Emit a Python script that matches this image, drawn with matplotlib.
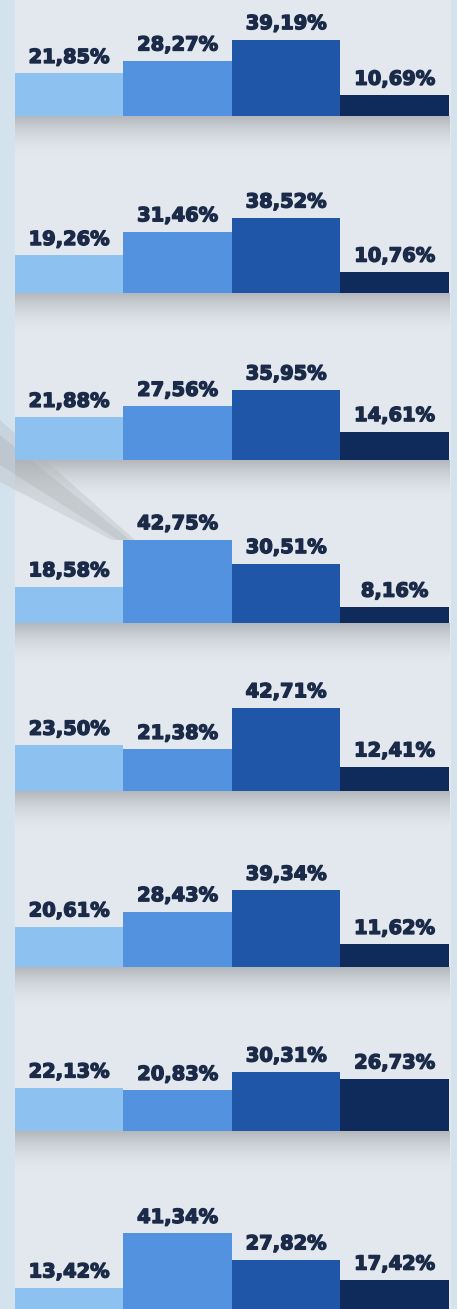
import numpy as np
import matplotlib
matplotlib.use("Agg")
import matplotlib.pyplot as plt
from matplotlib.patches import Polygon
import matplotlib.patheffects as pe

# ---- data ----
categories = ["A", "B", "C", "D"]
panel_values = [
    [21.85, 28.27, 39.19, 10.69],
    [19.26, 31.46, 38.52, 10.76],
    [21.88, 27.56, 35.95, 14.61],
    [18.58, 42.75, 30.51, 8.16],
    [23.50, 21.38, 42.71, 12.41],
    [20.61, 28.43, 39.34, 11.62],
    [22.13, 20.83, 30.31, 26.73],
    [13.42, 41.34, 27.82, 17.42],
]
bar_colors = ["#8dc2f0", "#5292de", "#1f56a8", "#0f2b5c"]

# ---- layout (pixels) ----
W, H = 457, 1309
bases = [116, 293, 460, 623, 791, 967, 1131, 1314]
x0, x1 = 15, 449
px_per_pct = 1.95
ax_h = 100

fig = plt.figure(figsize=(W / 100, H / 100), dpi=100)

# background
bg = np.zeros((H, W, 3))
outer = np.array(matplotlib.colors.to_rgb("#d4e2ee"))
inner = np.array(matplotlib.colors.to_rgb("#e2e8ed"))
bg[:, :] = outer
bg[:, x0:x1 + 2] = inner
shadow = np.array(matplotlib.colors.to_rgb("#a9adb2"))
for b in bases:
    for i in range(40):
        y = b + i
        if 0 <= y < H:
            w = 0.8 * (1 - i / 40) ** 1.8
            bg[y, x0:x1 + 1] = bg[y, x0:x1 + 1] * (1 - w) + shadow * w

ax_bg = fig.add_axes([0, 0, 1, 1])
ax_bg.imshow(bg, extent=(0, W, H, 0), aspect="auto", interpolation="bilinear")
ax_bg.set_xlim(0, W)
ax_bg.set_ylim(H, 0)
ax_bg.axis("off")
ax_bg.add_patch(Polygon([(0, 420), (0, 482), (112, 540), (135, 540)],
                        closed=True, facecolor="#b4b8bc", alpha=0.35, edgecolor="none"))
ax_bg.add_patch(Polygon([(0, 435), (0, 465), (118, 540), (130, 540)],
                        closed=True, facecolor="#a8adb2", alpha=0.3, edgecolor="none"))

for vals, b in zip(panel_values, bases):
    ax = fig.add_axes([x0 / W, 1 - b / H, (x1 - x0) / W, ax_h / H])
    ax.set_xlim(-0.5, len(categories) - 0.5)
    ax.set_ylim(0, ax_h / px_per_pct)
    ax.patch.set_alpha(0)
    ax.axis("off")
    xs = np.arange(len(categories))
    ax.bar(xs, vals, width=1.0, color=bar_colors, edgecolor="none")
    for x, v in zip(xs, vals):
        ax.annotate(f"{v:.2f}%".replace(".", ","), (x, v), xytext=(0, 7.5),
                    textcoords="offset points", ha="center", va="baseline",
                    fontsize=14, fontweight="bold", color="#1b2a48",
                    family="DejaVu Sans", annotation_clip=False,
                    path_effects=[pe.withStroke(linewidth=1.0, foreground="#1b2a48")])

fig.savefig("out.png", dpi=100)
